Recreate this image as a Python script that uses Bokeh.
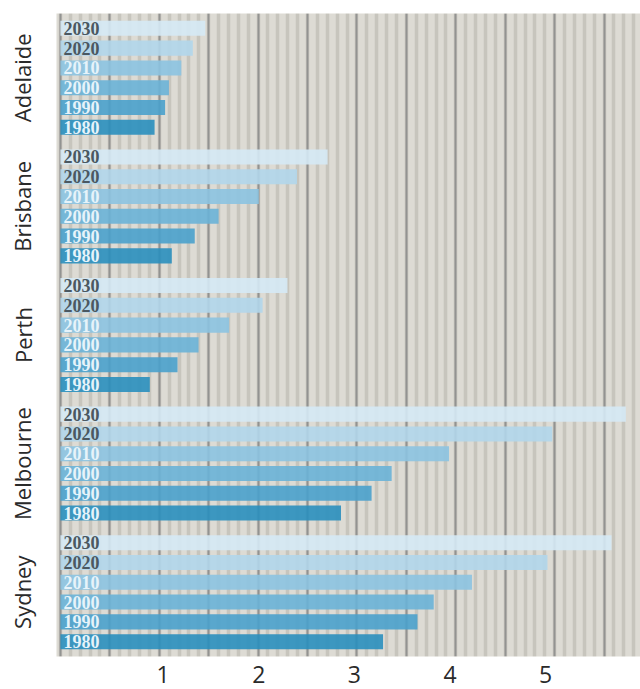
from bokeh.plotting import figure
from bokeh.models import FactorRange, ColumnDataSource, FixedTicker, Grid
from bokeh.transform import dodge
from bokeh.core.properties import value
from bokeh.embed import file_html
from bokeh.resources import INLINE

# ---- data ----
cities = ["Adelaide", "Brisbane", "Perth", "Melbourne", "Sydney"]
years = ["1980", "1990", "2000", "2010", "2020", "2030"]
adelaide = [0.91, 1.02, 1.06, 1.19, 1.31, 1.44]
brisbane = [1.09, 1.33, 1.58, 2.00, 2.40, 2.72]
perth = [0.86, 1.15, 1.37, 1.69, 2.04, 2.30]
melbourne = [2.86, 3.18, 3.39, 3.99, 5.07, 5.84]
sydney = [3.30, 3.66, 3.83, 4.23, 5.02, 5.69]
x_ticks = [1, 2, 3, 4, 5]

series = [adelaide, brisbane, perth, melbourne, sydney]

# ---- styles ----
year_colors = ["#2a8fbe", "#4aa1cc", "#6ab2d7", "#8cc3e1", "#b1d6eb", "#d5e9f5"]
year_text_colors = ["#e6f3fa", "#e6f3fa", "#e6f3fa", "#e6f3fa", "#4b5861", "#4b5861"]
ROW = 1 / 6.5          # row pitch inside one city band
BASE = -0.075
X0, X1 = -0.116, 5.993

data = {"city": cities}
for i, y in enumerate(years):
    data["v" + y] = [s[i] for s in series]
src = ColumnDataSource(data)

yr = FactorRange(factors=list(reversed(cities)), range_padding=0.0)

p = figure(width=640, height=689, y_range=yr, x_range=(X0, X1),
           output_backend="svg", toolbar_location=None,
           min_border_left=56, min_border_right=0, min_border_top=13,
           min_border_bottom=33)
p.outline_line_color = None
p.background_fill_color = "#dddbd4"

# stripes (minor grid) and darker vertical lines (major grid)
step = 0.517
dark = [0.442 + k * step for k in range(-1, 12)]
minor = [0.442 + k * step / 5 for k in range(-5, 60)]
p.xgrid.visible = False
p.ygrid.visible = False
stripe_grid = Grid(dimension=0, ticker=FixedTicker(ticks=[], minor_ticks=minor),
                   grid_line_color=None, minor_grid_line_color="#c4c2ba",
                   minor_grid_line_width=3.5, minor_grid_line_alpha=0.9)
dark_grid = Grid(dimension=0, ticker=FixedTicker(ticks=dark),
                 grid_line_color="#808283", grid_line_width=2,
                 grid_line_alpha=0.75)
p.add_layout(stripe_grid)
p.add_layout(dark_grid)

for i, y in enumerate(years):
    off = (i - 2.5) * ROW
    yy = dodge("city", off, range=yr)
    p.hbar(y=yy, left=BASE, right="v" + y, height=0.76 * ROW, source=src,
           fill_color=year_colors[i], fill_alpha=0.9, line_color=None)
    p.text(x=BASE, y=yy, text=value(y), source=src, x_offset=3,
           text_baseline="middle", text_align="left",
           text_font=value("Liberation Serif"), text_font_style="bold",
           text_font_size="18px", text_color=year_text_colors[i])

# x axis
p.xaxis.ticker = FixedTicker(ticks=x_ticks)
p.xaxis.axis_line_color = None
p.xaxis.major_tick_line_color = None
p.xaxis.minor_tick_line_color = None
p.xaxis.major_label_text_font = "Open Sans"
p.xaxis.major_label_text_font_size = "23px"
p.xaxis.major_label_text_color = "#2a2a2a"
p.xaxis.major_label_standoff = 3

# y axis: city names
ya = p.yaxis[0]
ya.axis_line_color = None
ya.major_tick_line_color = None
ya.minor_tick_line_color = None
ya.major_label_text_font = "Open Sans"
ya.major_label_text_font_size = "22px"
ya.major_label_text_color = "#2a2a2a"
ya.major_label_orientation = "vertical"
ya.major_label_standoff = 13

open("out.html", "w").write(file_html(p, INLINE))
